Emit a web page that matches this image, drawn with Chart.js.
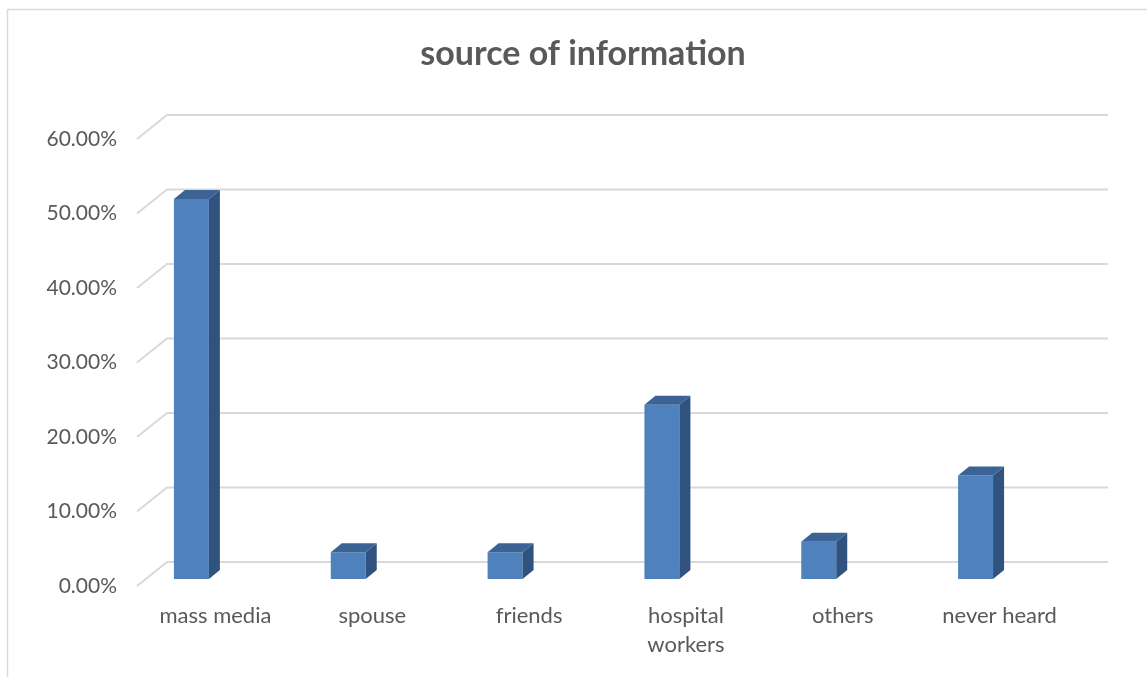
<!DOCTYPE html>
<html>
<head>
<meta charset="utf-8">
<title>source of information</title>
<script src="https://cdn.jsdelivr.net/npm/chart.js@4.4.1/dist/chart.umd.min.js"></script>
<style>
    body { margin: 0; background: #fff; }
    canvas { display: block; }
</style>
</head>
<body>
<canvas id="infoChart" width="1147" height="677"></canvas>
<script>
const chartTitle = 'source of information';
const categories = ['mass media', 'spouse', 'friends', ['hospital', 'workers'], 'others', 'never heard'];
const shares = [51.0, 3.6, 3.6, 23.4, 5.0, 13.9];
const yTicks = [0, 10, 20, 30, 40, 50, 60];

const fontFamily = 'Lato, "Open Sans", sans-serif';
const textColor = '#595959';
const gridColor = '#d9d9d9';

// depth of the floor / back wall and of each bar, in pixels
const wallDx = 30, wallDy = -24, wallFront = 7;
const barDx = 11, barDy = -9;

const chartFrame = {
    id: 'chartFrame',
    afterLayout(chart) {
        // let the % labels run a few px past the plot's left edge, like Excel
        chart.scales.y.right += 4;
    },
    beforeDraw(chart) {
        const ctx = chart.ctx;
        ctx.save();
        ctx.strokeStyle = gridColor;
        ctx.lineWidth = 1.5;
        ctx.beginPath();
        ctx.moveTo(7.5, 677);
        ctx.lineTo(7.5, 9.5);
        ctx.lineTo(1147, 9.5);
        ctx.stroke();

        ctx.fillStyle = textColor;
        ctx.font = `bold 34px ${fontFamily}`;
        ctx.textAlign = 'center';
        ctx.textBaseline = 'middle';
        ctx.fillText(chartTitle, 583, 54);
        ctx.restore();
    }
};

const wallGrid = {
    id: 'wallGrid',
    beforeDatasetsDraw(chart) {
        const { ctx, chartArea, scales } = chart;
        const frontX = chartArea.left + 24;
        const backX = frontX + wallDx;
        const backRight = chartArea.right + 54;
        ctx.save();
        ctx.strokeStyle = gridColor;
        ctx.lineWidth = 2;
        yTicks.forEach(v => {
            const y = scales.y.getPixelForValue(v) + wallFront;
            ctx.beginPath();
            ctx.moveTo(frontX, y);
            ctx.lineTo(backX, y + wallDy);
            ctx.lineTo(backRight, y + wallDy);
            ctx.stroke();
        });
        ctx.restore();
    }
};

const barDepth = {
    id: 'barDepth',
    afterDatasetsDraw(chart) {
        const ctx = chart.ctx;
        const meta = chart.getDatasetMeta(0);
        ctx.save();
        meta.data.forEach(bar => {
            const { x, y, base, width } = bar.getProps(['x', 'y', 'base', 'width'], true);
            const l = x - width / 2, r = x + width / 2;
            // side face
            ctx.fillStyle = '#30527f';
            ctx.beginPath();
            ctx.moveTo(r, y);
            ctx.lineTo(r + barDx, y + barDy);
            ctx.lineTo(r + barDx, base + barDy);
            ctx.lineTo(r, base);
            ctx.closePath();
            ctx.fill();
            // top face
            ctx.fillStyle = '#3b6395';
            ctx.beginPath();
            ctx.moveTo(l, y);
            ctx.lineTo(l + barDx, y + barDy);
            ctx.lineTo(r + barDx, y + barDy);
            ctx.lineTo(r, y);
            ctx.closePath();
            ctx.fill();
        });
        ctx.restore();
    }
};

new Chart(document.getElementById('infoChart'), {
    type: 'bar',
    data: {
        labels: categories,
        datasets: [{
            data: shares,
            backgroundColor: '#4f81bd',
            borderWidth: 0,
            barPercentage: 0.223,
            categoryPercentage: 1
        }]
    },
    options: {
        responsive: false,
        animation: false,
        layout: { padding: { left: 0, right: 93, top: 132, bottom: 0 } },
        plugins: {
            legend: { display: false },
            tooltip: { enabled: false },
            title: { display: false }
        },
        scales: {
            x: {
                grid: { display: false, drawTicks: false },
                border: { display: false },
                afterFit(scale) { scale.height = 98; },
                ticks: {
                    color: textColor,
                    font: { family: fontFamily, size: 22, lineHeight: 1.3 },
                    labelOffset: 24,
                    padding: 23,
                    maxRotation: 0,
                    autoSkip: false
                }
            },
            y: {
                min: 0,
                max: 60,
                grid: { display: false, drawTicks: false },
                border: { display: false },
                afterFit(scale) { scale.width = 113; },
                ticks: {
                    stepSize: 10,
                    color: textColor,
                    font: { family: fontFamily, size: 21 },
                    padding: 0,
                    labelOffset: 7,
                    callback: v => v.toFixed(2) + '%'
                }
            }
        }
    },
    plugins: [chartFrame, wallGrid, barDepth]
});
</script>
</body>
</html>
